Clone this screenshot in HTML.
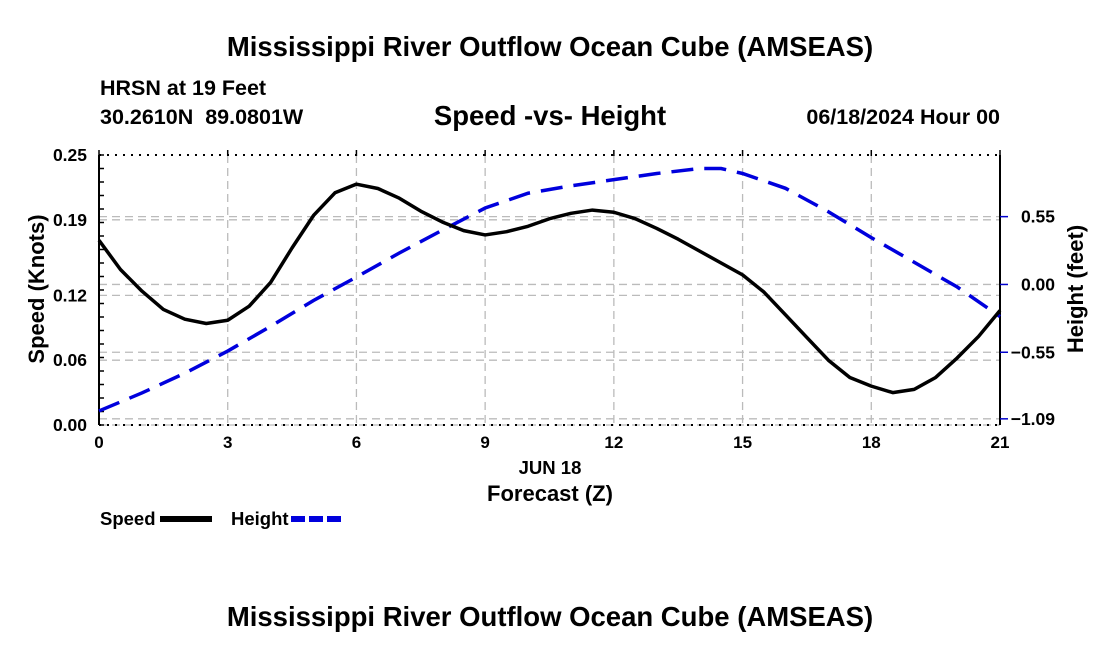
<!DOCTYPE html>
<html><head><meta charset="utf-8"><style>
body{margin:0;background:#fff;width:1100px;height:650px;overflow:hidden;font-family:"Liberation Sans",sans-serif}
svg text{font-family:"Liberation Sans",sans-serif;font-weight:bold;fill:#000}
</style></head><body>
<svg id="c" width="1100" height="650">
<text x="550" y="56" text-anchor="middle" font-size="27.5">Mississippi River Outflow Ocean Cube (AMSEAS)</text>
<text x="100" y="95" font-size="21.5">HRSN at 19 Feet</text>
<text x="100" y="124" font-size="21.5" xml:space="preserve">30.2610N  89.0801W</text>
<text x="550" y="125" text-anchor="middle" font-size="27.5">Speed -vs- Height</text>
<text x="1000" y="124" text-anchor="end" font-size="21.5">06/18/2024 Hour 00</text>
<text x="550" y="626" text-anchor="middle" font-size="27.5">Mississippi River Outflow Ocean Cube (AMSEAS)</text>
<g id="plot"></g>
</svg>
<script>
const hours=[0,0.5,1,1.5,2,2.5,3,3.5,4,4.5,5,5.5,6,6.5,7,7.5,8,8.5,9,9.5,10,10.5,11,11.5,12,12.5,13,13.5,14,14.5,15,15.5,16,16.5,17,17.5,18,18.5,19,19.5,20,20.5,21];
const speed=[0.171,0.144,0.124,0.107,0.098,0.094,0.097,0.110,0.132,0.164,0.194,0.215,0.223,0.219,0.210,0.198,0.188,0.180,0.176,0.179,0.184,0.191,0.196,0.199,0.197,0.191,0.182,0.172,0.161,0.150,0.139,0.123,0.102,0.081,0.060,0.044,0.036,0.030,0.033,0.044,0.062,0.082,0.106];
const hHours=[0,1,2,3,4,5,6,7,8,9,10,11,12,13,14,14.5,15,16,17,18,19,20,21];
const height=[-1.026,-0.88,-0.72,-0.54,-0.34,-0.13,0.06,0.255,0.44,0.62,0.74,0.80,0.85,0.90,0.94,0.94,0.90,0.78,0.59,0.38,0.18,-0.02,-0.26];
const xTicks=[0,3,6,9,12,15,18,21];
const leftTicks=[0,0.06,0.12,0.19,0.25];
const leftLabels=["0.00","0.06","0.12","0.19","0.25"];
const rightTicks=[-1.09,-0.55,0,0.55];
const rightLabels=["\u22121.09","\u22120.55","0.00","0.55"];
const X0=99,X1=1000,Y0=425,Y1=155,HMIN=-1.14,HMAX=1.05;
const xs=h=>X0+(h/21)*(X1-X0);
const ys=v=>Y0-(v/0.25)*(Y0-Y1);
const yh=v=>Y0-((v-HMIN)/(HMAX-HMIN))*(Y0-Y1);
const g=document.getElementById('plot');
const NS='http://www.w3.org/2000/svg';
function mk(t,a){const e=document.createElementNS(NS,t);for(const k in a)e.setAttribute(k,a[k]);g.appendChild(e);return e;}
xTicks.slice(1,-1).forEach(t=>{const e=mk('line',{x1:xs(t),x2:xs(t),y1:Y1,y2:Y0,stroke:'#bbb','stroke-dasharray':'8,5','stroke-width':1.3});

});
leftTicks.slice(0,-1).forEach(t=>{const e=mk('line',{x1:X0,x2:X1,y1:ys(t),y2:ys(t),stroke:'#bbb','stroke-dasharray':'8,5','stroke-width':1.3});

});
rightTicks.forEach(t=>{const e=mk('line',{x1:X0,x2:X1,y1:yh(t),y2:yh(t),stroke:'#bbb','stroke-dasharray':'8,5','stroke-width':1.3});

});
let e=mk('line',{x1:X0,x2:X0,y1:Y1,y2:Y0,stroke:'#000','stroke-width':2});

e=mk('line',{x1:X1,x2:X1,y1:Y1,y2:Y0,stroke:'#000','stroke-width':2});

e=mk('line',{x1:X0,x2:X1,y1:Y1,y2:Y1,stroke:'#000','stroke-width':2,'stroke-dasharray':'2,6'});

e=mk('line',{x1:X0,x2:X1,y1:Y0,y2:Y0,stroke:'#000','stroke-width':2,'stroke-dasharray':'2,6'});

for(let v=0;v<=0.2501;v+=0.0125){const m=mk('line',{x1:X0,x2:X0+5,y1:ys(v),y2:ys(v),stroke:'#000','stroke-width':1.5});

}
xTicks.forEach(t=>{const m=mk('line',{x1:xs(t),x2:xs(t),y1:Y1-5,y2:Y1+1,stroke:'#000','stroke-width':1.5});


const l=mk('text',{x:xs(t),y:Y0+23,'text-anchor':'middle','font-size':17});l.textContent=t;

});
leftTicks.forEach((t,i)=>{const l=mk('text',{x:X0-12,y:ys(t)+6,'text-anchor':'end','font-size':17.5});l.textContent=leftLabels[i];

});
rightTicks.forEach((t,i)=>{const m=mk('line',{x1:X1,x2:X1+8,y1:yh(t),y2:yh(t),stroke:'#00c','stroke-width':1.5});


const l=mk('text',{x:X1+55,y:yh(t)+6,'text-anchor':'end','font-size':17.5});l.textContent=rightLabels[i];

});
let t=mk('text',{x:0,y:0,'text-anchor':'middle','font-size':22,transform:`translate(44,289) rotate(-90)`});t.textContent='Speed (Knots)';

t=mk('text',{x:0,y:0,'text-anchor':'middle','font-size':22,transform:`translate(1083,289) rotate(-90)`});t.textContent='Height (feet)';

t=mk('text',{x:550,y:474,'text-anchor':'middle','font-size':18.5});t.textContent='JUN 18';

t=mk('text',{x:550,y:501,'text-anchor':'middle','font-size':22});t.textContent='Forecast (Z)';

const hp=mk('polyline',{points:hHours.map((h,i)=>xs(h)+','+yh(height[i])).join(' '),fill:'none',stroke:'#0000dd','stroke-width':3.5,'stroke-dasharray':'22,11'});

const sp=mk('polyline',{points:hours.map((h,i)=>xs(h)+','+ys(speed[i])).join(' '),fill:'none',stroke:'#000','stroke-width':3.5,'stroke-linejoin':'round'});

t=mk('text',{x:100,y:525,'font-size':18.5});t.textContent='Speed';

e=mk('line',{x1:160,x2:212,y1:519,y2:519,stroke:'#000','stroke-width':6});

t=mk('text',{x:231,y:525,'font-size':18.5});t.textContent='Height';

e=mk('line',{x1:291,x2:343,y1:519,y2:519,stroke:'#0000dd','stroke-width':6,'stroke-dasharray':'14,4'});

</script>
</body></html>
